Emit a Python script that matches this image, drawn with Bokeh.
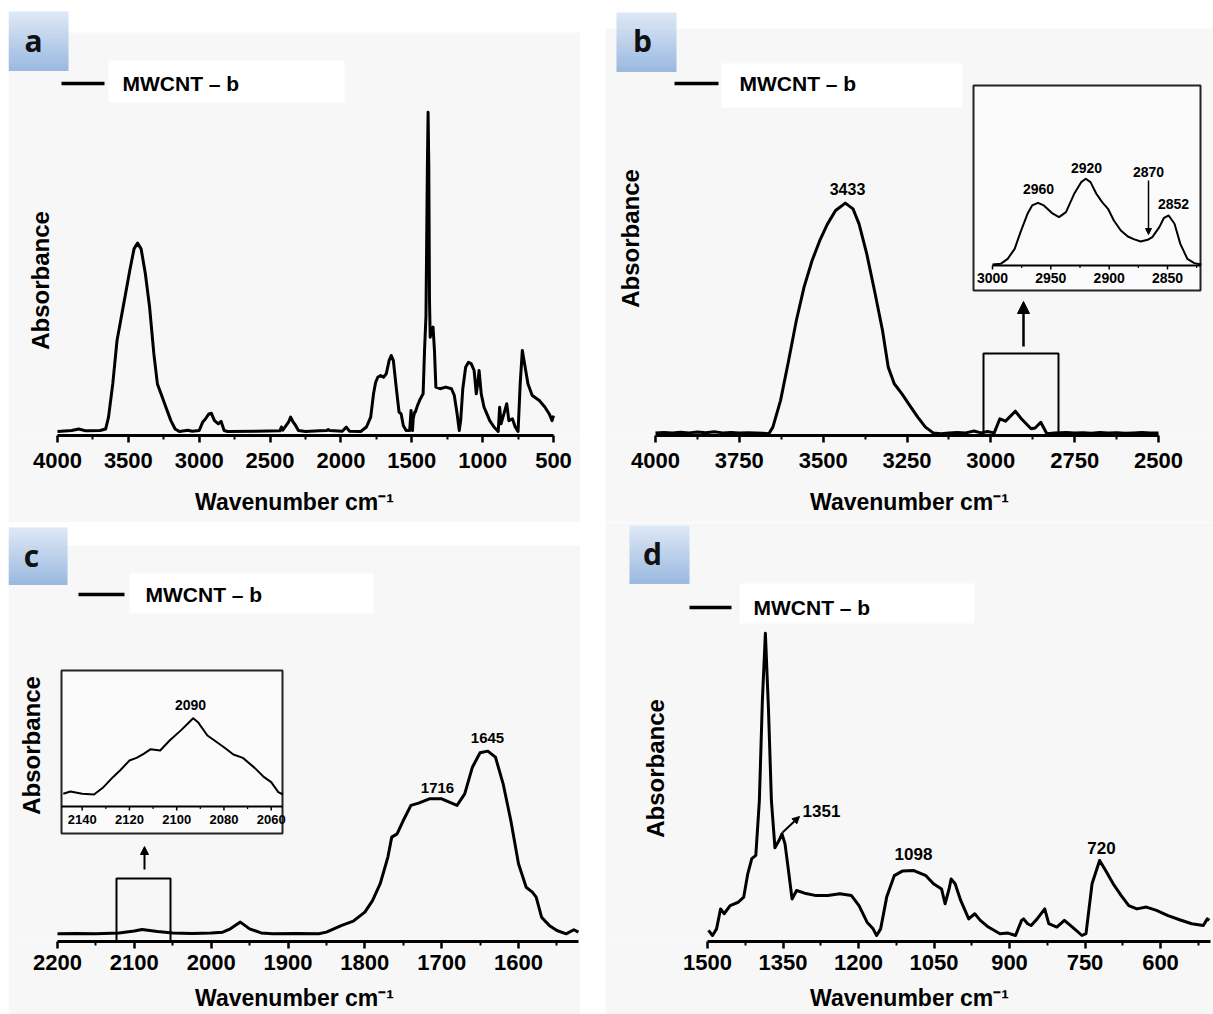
import math
from bokeh.plotting import figure
from bokeh.layouts import column, row
from bokeh.models import Range1d, FixedTicker, Spacer, Arrow, NormalHead
from bokeh.core.properties import value
from bokeh.embed import file_html
from bokeh.resources import INLINE

# ---------------- data ----------------
series_name = "MWCNT – b"

# (a) full spectrum
wn_a = [4000, 3900, 3850, 3800, 3700, 3660, 3640, 3610, 3580, 3550,
        3520, 3490, 3460, 3435, 3410, 3380, 3350, 3320, 3295, 3265,
        3235, 3200, 3170, 3140, 3080, 3050, 3000, 2975, 2955, 2932,
        2914, 2892, 2865, 2846, 2824, 2800, 2600, 2430, 2420, 2410,
        2370, 2355, 2340, 2320, 2300, 2250, 2150, 2100, 2090, 2080,
        1990, 1962, 1940, 1860, 1820, 1790, 1770, 1755, 1740, 1720,
        1700, 1680, 1660, 1645, 1630, 1610, 1590, 1575, 1560, 1540,
        1515, 1505, 1500, 1495, 1490, 1480, 1475, 1460, 1440, 1420,
        1410, 1400, 1390, 1385, 1380, 1375, 1370, 1360, 1350, 1340,
        1330, 1300, 1260, 1220, 1200, 1180, 1165, 1155, 1140, 1120,
        1100, 1080, 1060, 1045, 1035, 1025, 1010, 990, 970, 950,
        920, 890, 880, 870, 850, 830, 815, 790, 770, 750,
        735, 720, 700, 680, 650, 600, 560, 530, 510, 500]
abs_a = [0.0, 0.003, 0.008, 0.002, 0.003, 0.008, 0.045, 0.149, 0.285, 0.358,
         0.431, 0.504, 0.572, 0.590, 0.572, 0.494, 0.389, 0.243, 0.149, 0.113,
         0.076, 0.034, 0.008, 0.0, 0.004, 0.001, 0.003, 0.030, 0.040, 0.055,
         0.057, 0.034, 0.024, 0.032, 0.003, 0.0, 0.001, 0.002, 0.014, 0.004,
         0.029, 0.045, 0.032, 0.019, 0.003, 0.0, 0.002, 0.003, 0.006, 0.003,
         0.001, 0.014, 0.001, 0.0, 0.014, 0.045, 0.118, 0.154, 0.170, 0.175,
         0.170, 0.181, 0.222, 0.238, 0.222, 0.139, 0.061, 0.055, 0.019, 0.003,
         0.003, 0.066, 0.020, 0.003, 0.040, 0.060, 0.061, 0.081, 0.102, 0.118,
         0.254, 0.360, 0.828, 1.0, 0.830, 0.410, 0.295, 0.316, 0.327, 0.254,
         0.139, 0.134, 0.139, 0.134, 0.113, 0.055, 0.003, 0.034, 0.134, 0.201,
         0.217, 0.212, 0.191, 0.118, 0.149, 0.191, 0.118, 0.076, 0.055, 0.034,
         0.014, 0.0, 0.076, 0.024, 0.055, 0.087, 0.034, 0.040, 0.014, 0.0,
         0.149, 0.254, 0.201, 0.149, 0.113, 0.097, 0.076, 0.055, 0.034, 0.050]

# (b) 4000-2500 region
wn_b = [4000, 3975, 3950, 3925, 3900, 3875, 3850, 3825, 3800, 3775,
        3750, 3725, 3700, 3680, 3662, 3650, 3627, 3603, 3580, 3557,
        3533, 3510, 3487, 3463, 3434, 3411, 3393, 3370, 3347, 3323,
        3306, 3288, 3265, 3242, 3218, 3195, 3172, 3148, 3125, 3100,
        3075, 3050, 3030, 3010, 2990, 2973, 2956, 2927, 2909, 2880,
        2868, 2851, 2833, 2810, 2775, 2750, 2725, 2700, 2675, 2650,
        2625, 2600, 2575, 2550, 2525, 2500]
abs_b = [0.004, 0.006, 0.003, 0.007, 0.004, 0.008, 0.005, 0.009, 0.004, 0.006,
         0.003, 0.005, 0.004, 0.002, 0.0, 0.029, 0.145, 0.318, 0.491, 0.636,
         0.751, 0.838, 0.910, 0.968, 1.0, 0.975, 0.910, 0.780, 0.621, 0.448,
         0.289, 0.217, 0.173, 0.123, 0.072, 0.029, 0.004, 0.0, 0.003, 0.006,
         0.004, 0.012, 0.004, 0.010, 0.004, 0.065, 0.055, 0.098, 0.065, 0.022,
         0.025, 0.050, 0.0, 0.004, 0.006, 0.003, 0.005, 0.002, 0.006, 0.003,
         0.005, 0.002, 0.004, 0.006, 0.003, 0.004]

# (b) inset 3000-2820
wn_b_inset = [3000, 2993, 2987, 2981, 2976, 2970, 2966, 2961, 2956, 2949,
              2943, 2937, 2930, 2924, 2920, 2916, 2911, 2906, 2901, 2896,
              2890, 2884, 2879, 2873, 2867, 2863, 2857, 2853, 2849, 2844,
              2839, 2833, 2827, 2821]
abs_b_inset = [0.0, 0.008, 0.066, 0.183, 0.377, 0.591, 0.689, 0.720, 0.689, 0.600,
               0.553, 0.611, 0.825, 0.961, 1.0, 0.961, 0.825, 0.728, 0.650, 0.514,
               0.397, 0.327, 0.296, 0.268, 0.288, 0.319, 0.436, 0.545, 0.572, 0.475,
               0.241, 0.066, 0.016, 0.0]

# (c) 2200-1520 region
wn_c = [2200, 2175, 2150, 2120, 2100, 2090, 2070, 2050, 2025, 2000,
        1985, 1975, 1962, 1950, 1935, 1920, 1890, 1860, 1850, 1830,
        1815, 1800, 1790, 1780, 1770, 1765, 1758, 1750, 1740, 1730,
        1716, 1700, 1690, 1680, 1670, 1660, 1650, 1640, 1630, 1620,
        1610, 1600, 1590, 1582, 1577, 1570, 1560, 1550, 1538, 1528,
        1522]
abs_c = [0.0, 0.002, 0.0, 0.005, 0.015, 0.024, 0.013, 0.004, 0.002, 0.004,
         0.009, 0.027, 0.064, 0.027, 0.005, 0.0, 0.002, 0.0, 0.009, 0.046,
         0.069, 0.119, 0.182, 0.274, 0.420, 0.529, 0.547, 0.620, 0.703, 0.715,
         0.739, 0.739, 0.721, 0.703, 0.766, 0.912, 0.991, 1.0, 0.967, 0.821,
         0.620, 0.383, 0.255, 0.228, 0.201, 0.091, 0.046, 0.018, 0.0, 0.022,
         0.009]

# (c) inset 2148-2055
wn_c_inset = [2148, 2145, 2140, 2135, 2131, 2127, 2124, 2120, 2117, 2114,
              2111, 2107, 2103, 2098, 2094, 2093, 2091, 2087, 2084, 2080,
              2076, 2072, 2067, 2063, 2060, 2057, 2055]
abs_c_inset = [0.009, 0.039, 0.009, 0.0, 0.096, 0.227, 0.314, 0.445, 0.480, 0.533,
               0.594, 0.576, 0.707, 0.847, 0.969, 1.0, 0.948, 0.773, 0.707, 0.620,
               0.524, 0.480, 0.349, 0.227, 0.162, 0.031, 0.0]

# (d) 1500-500 region
wn_d = [1498, 1490, 1482, 1474, 1467, 1455, 1439, 1428, 1420, 1412,
        1404, 1397, 1391, 1385, 1379, 1373, 1366, 1358, 1352, 1346,
        1340, 1332, 1323, 1307, 1284, 1261, 1237, 1214, 1199, 1183,
        1171, 1164, 1156, 1144, 1129, 1113, 1090, 1066, 1051, 1035,
        1028, 1020, 1016, 1008, 997, 981, 969, 958, 942, 919,
        903, 888, 876, 872, 864, 857, 845, 830, 822, 806,
        791, 775, 756, 748, 736, 721, 709, 694, 678, 663,
        647, 628, 608, 585, 562, 538, 515, 507, 503]
abs_d = [0.017, 0.0, 0.022, 0.088, 0.072, 0.099, 0.110, 0.127, 0.204, 0.254,
         0.265, 0.445, 0.776, 1.0, 0.755, 0.445, 0.29, 0.314, 0.336, 0.303,
         0.226, 0.121, 0.149, 0.140, 0.132, 0.132, 0.138, 0.132, 0.099, 0.044,
         0.022, 0.0, 0.022, 0.127, 0.198, 0.213, 0.215, 0.198, 0.171, 0.154,
         0.105, 0.154, 0.187, 0.171, 0.116, 0.055, 0.072, 0.05, 0.028, 0.006,
         0.008, 0.0, 0.05, 0.055, 0.039, 0.033, 0.055, 0.088, 0.039, 0.028,
         0.05, 0.028, 0.0, 0.006, 0.171, 0.248, 0.215, 0.171, 0.132, 0.099,
         0.088, 0.094, 0.083, 0.066, 0.052, 0.039, 0.033, 0.055, 0.05]

# tick labels
ticks_a = [4000, 3500, 3000, 2500, 2000, 1500, 1000, 500]
minor_a = [3750, 3250, 2750, 2250, 1750, 1250, 750]
ticks_b = [4000, 3750, 3500, 3250, 3000, 2750, 2500]
minor_b = [3875, 3625, 3375, 3125, 2875, 2625]
ticks_c = [2200, 2100, 2000, 1900, 1800, 1700, 1600]
minor_c = [2150, 2050, 1950, 1850, 1750, 1650, 1550]
ticks_d = [1500, 1350, 1200, 1050, 900, 750, 600]
minor_d = [1425, 1275, 1125, 975, 825, 675, 525]
ticks_b_inset = [3000, 2950, 2900, 2850]
minor_b_inset = [2975, 2925, 2875, 2825]
ticks_c_inset = [2140, 2120, 2100, 2080, 2060]
minor_c_inset = [2130, 2110, 2090, 2070]

# peak labels
peaks_b = ["3433"]
peaks_b_inset = ["2960", "2920", "2870", "2852"]
peaks_c = ["1716", "1645"]
peaks_c_inset = ["2090"]
peaks_d = ["1351", "1098", "720"]

# ---------------- styling ----------------
FONT = value("Liberation Sans")
TAG_FONT = value("Open Sans")
PANEL_GRAY = "#f7f7f7"
TAG_TOP = (0xdc, 0xe7, 0xf5)
TAG_BOT = (0x9c, 0xba, 0xe1)


class PxMap:
    """Linear map from page pixels to data values for a reversed wavenumber axis."""
    def __init__(self, ref_v, ref_px, ppu, base_py, unit):
        self.ref_v, self.ref_px, self.ppu = ref_v, ref_px, ppu
        self.base_py, self.unit = base_py, unit

    def X(self, px):
        return self.ref_v - (px - self.ref_px) / self.ppu

    def Y(self, py):
        return (self.base_py - py) / self.unit


def mix(t):
    c = [round(a + (b - a) * t) for a, b in zip(TAG_TOP, TAG_BOT)]
    return "#%02x%02x%02x" % tuple(c)


def txt(p, xs, ys, labels, size, **kw):
    p.text(x=xs, y=ys, text=labels, text_font=FONT, text_font_style="bold",
           text_font_size=size, text_align=kw.pop("align", "center"),
           text_baseline="middle", text_color="black", **kw)


def box(p, m, x0, x1, y0, y1, **kw):
    p.quad(left=[m.X(x0)], right=[m.X(x1)], top=[m.Y(y0)], bottom=[m.Y(y1)], **kw)


def arrow(p, m, x0, y0, x1, y1, size, width):
    p.add_layout(Arrow(end=NormalHead(size=size, fill_color="black", line_color="black", line_width=1),
                       x_start=m.X(x0), y_start=m.Y(y0), x_end=m.X(x1), y_end=m.Y(y1),
                       line_width=width, line_color="black"))


def make_panel(fx, fy, fw, fh, axis_py, m, wn, ab, ticks, minor, bounds, gray_top,
               tag, letter, leg, ylab, tick_standoff, label_standoff):
    p = figure(width=fw, height=fh, output_backend="svg", toolbar_location=None,
               x_range=Range1d(m.X(fx), m.X(fx + fw)),
               y_range=Range1d(m.Y(axis_py), m.Y(fy)),
               min_border_left=0, min_border_right=0, min_border_top=0,
               min_border_bottom=fy + fh - axis_py, y_axis_location=None,
               background_fill_color="white", border_fill_color=PANEL_GRAY,
               outline_line_color=None)
    p.grid.visible = False
    # gray panel
    box(p, m, fx, fx + fw, gray_top, axis_py + 20, fill_color=PANEL_GRAY, line_color=None)
    # tag box with vertical gradient
    tx0, tx1, ty0, ty1 = tag
    n = 16
    lefts, rights, tops, bottoms, cols = [], [], [], [], []
    for i in range(n):
        a = ty0 + (ty1 - ty0) * i / n
        b = ty0 + (ty1 - ty0) * (i + 1) / n
        lefts.append(m.X(tx0)); rights.append(m.X(tx1))
        tops.append(m.Y(a)); bottoms.append(m.Y(b + 0.5))
        cols.append(mix(i / (n - 1)))
    p.quad(left=lefts, right=rights, top=tops, bottom=bottoms, fill_color=cols, line_color=None)
    p.text(x=[m.X(letter[1])], y=[m.Y(letter[2])], text=[letter[0]], text_font=TAG_FONT,
           text_font_style="bold", text_font_size="30px", text_align="center",
           text_baseline="middle", text_color="#111111")
    # legend
    lx0, lx1, ly, bx0, bx1, by0, by1, ltx = leg
    box(p, m, bx0, bx1, by0, by1, fill_color="white", line_color=None)
    p.segment(x0=[m.X(lx0)], y0=[m.Y(ly)], x1=[m.X(lx1)], y1=[m.Y(ly)],
              line_color="black", line_width=3.5)
    txt(p, [m.X(ltx)], [m.Y(ly)], [series_name], "21px", align="left")
    # y label
    p.text(x=[m.X(ylab[0])], y=[m.Y(ylab[1])], text=["Absorbance"], angle=math.pi / 2,
           text_font=FONT, text_font_style="bold", text_font_size="24px",
           text_align="center", text_baseline="middle", text_color="black")
    # spectrum
    p.line(wn, ab, line_color="black", line_width=3, line_join="round")
    # axis
    ax = p.xaxis[0]
    ax.ticker = FixedTicker(ticks=ticks, minor_ticks=minor)
    ax.bounds = bounds
    ax.axis_line_width = 3
    ax.axis_line_color = "black"
    ax.major_tick_line_width = 2.5
    ax.major_tick_out = 7
    ax.major_tick_in = 0
    ax.minor_tick_line_width = 2
    ax.minor_tick_out = 4
    ax.minor_tick_in = 0
    ax.major_label_text_font = "Liberation Sans"
    ax.major_label_text_font_style = "bold"
    ax.major_label_text_font_size = "22px"
    ax.major_label_text_color = "black"
    ax.major_label_standoff = tick_standoff
    ax.axis_label = "Wavenumber cm\u207b\u00b9"
    ax.axis_label_text_font = "Liberation Sans"
    ax.axis_label_text_font_style = "bold"
    ax.axis_label_text_font_size = "23px"
    ax.axis_label_text_color = "black"
    ax.axis_label_standoff = label_standoff
    return p


def inset_axis(p, im, ticks, minor, axis_py, x0_px, x1_px, label_py, size):
    ixr, iyr = "ix", "iy"
    p.segment(x0=[im.X(x0_px)], y0=[im.Y(axis_py)], x1=[im.X(x1_px)], y1=[im.Y(axis_py)],
              line_color="black", line_width=2, x_range_name=ixr, y_range_name=iyr)
    p.segment(x0=ticks, y0=[im.Y(axis_py)] * len(ticks), x1=ticks, y1=[im.Y(axis_py + 4)] * len(ticks),
              line_color="black", line_width=1.5, x_range_name=ixr, y_range_name=iyr)
    p.segment(x0=minor, y0=[im.Y(axis_py)] * len(minor), x1=minor, y1=[im.Y(axis_py + 2.5)] * len(minor),
              line_color="black", line_width=1.2, x_range_name=ixr, y_range_name=iyr)
    txt(p, ticks, [im.Y(label_py)] * len(ticks), [str(t) for t in ticks], size,
        x_range_name=ixr, y_range_name=iyr)


def add_inset_ranges(p, im, fx, fw, fy, axis_py):
    p.extra_x_ranges = {"ix": Range1d(im.X(fx), im.X(fx + fw))}
    p.extra_y_ranges = {"iy": Range1d(im.Y(axis_py), im.Y(fy))}


# ---------------- panel a ----------------
ma = PxMap(4000, 57, 496 / 3500, 431, 319.3)
pa = make_panel(8, 0, 572, 522, 435, ma, wn_a, abs_a, ticks_a, minor_a, (500, 4000), 32,
                (8, 68, 11, 70), ("a", 33, 40),
                (61, 104, 83, 108, 344, 60, 102, 122), (40, 280), 10, 18)

# ---------------- panel b ----------------
mb = PxMap(4000, 655, 503 / 1500, 433.3, 230.7)
pb = make_panel(605, 0, 608, 522, 435, mb, wn_b, abs_b, ticks_b, minor_b, (2500, 4000), 28,
                (616, 676, 12, 71), ("b", 642, 40),
                (674, 718, 83, 721, 962, 63, 107, 739), (630, 238), 10, 18)
txt(pb, [mb.X(847)], [mb.Y(188)], peaks_b, "16px")
box(pb, mb, 983, 1058, 353, 448, fill_color=None, line_color="black", line_width=2)
arrow(pb, mb, 1023, 346, 1023, 301, 12, 2.5)
# inset b
mbi = PxMap(3000, 992, 175 / 150, 264, 85.7)
add_inset_ranges(pb, mbi, 605, 608, 0, 435)
box(pb, mb, 973, 1200, 85, 290, fill_color="#fbfbfb", line_color="#222222", line_width=2)
pb.line(wn_b_inset, abs_b_inset, line_color="black", line_width=2, line_join="round",
        x_range_name="ix", y_range_name="iy")
inset_axis(pb, mbi, ticks_b_inset, minor_b_inset, 265, 992, 1200, 277, "14px")
txt(pb, [mb.X(1038), mb.X(1086), mb.X(1148), mb.X(1173)],
    [mb.Y(188), mb.Y(167), mb.Y(171), mb.Y(203)], peaks_b_inset, "14px")
arrow(pb, mb, 1148, 180, 1148, 234, 6, 1.5)

# ---------------- panel c ----------------
mc = PxMap(2200, 57, 461 / 600, 933.3, 182.7)
pc = make_panel(8, 522, 572, 492, 941, mc, wn_c, abs_c, ticks_c, minor_c, (1522, 2200), 545,
                (8, 67, 527, 584), ("c", 31, 555),
                (78, 124, 594, 129, 373, 573, 613, 145), (31, 745), 6, 12)
txt(pc, [mc.X(437), mc.X(487)], [mc.Y(787), mc.Y(737)], peaks_c, "15px")
box(pc, mc, 116, 170, 878, 952, fill_color=None, line_color="black", line_width=2)
arrow(pc, mc, 144, 869, 144, 846, 8, 2)
# inset c
mci = PxMap(2140, 81.7, 2.3625, 794, 76.3)
add_inset_ranges(pc, mci, 8, 572, 522, 941)
box(pc, mc, 61, 282, 670, 833, fill_color="#fbfbfb", line_color="#222222", line_width=2)
pc.line(wn_c_inset, abs_c_inset, line_color="black", line_width=2, line_join="round",
        x_range_name="ix", y_range_name="iy")
inset_axis(pc, mci, ticks_c_inset, minor_c_inset, 806, 61, 282, 819, "13px")
txt(pc, [mc.X(190)], [mc.Y(704)], peaks_c_inset, "14px")

# ---------------- panel d ----------------
md = PxMap(1500, 707, 453 / 900, 935, 302.3)
pd = make_panel(605, 522, 608, 492, 941, md, wn_d, abs_d, ticks_d, minor_d, (500, 1500), 522,
                (629, 689, 525, 583), ("d", 652, 553),
                (689, 731, 607, 739, 974, 583, 623, 753), (655, 768), 6, 12)
txt(pd, [md.X(821), md.X(913), md.X(1101)], [md.Y(810), md.Y(853), md.Y(847)], peaks_d, "17px")
arrow(pd, md, 782, 832, 799, 816, 7, 2)

layout = column(
    row(Spacer(width=8, height=522), pa, Spacer(width=25, height=522), pb),
    row(Spacer(width=8, height=492), pc, Spacer(width=25, height=492), pd),
)

open("out.html", "w").write(file_html(layout, INLINE))
